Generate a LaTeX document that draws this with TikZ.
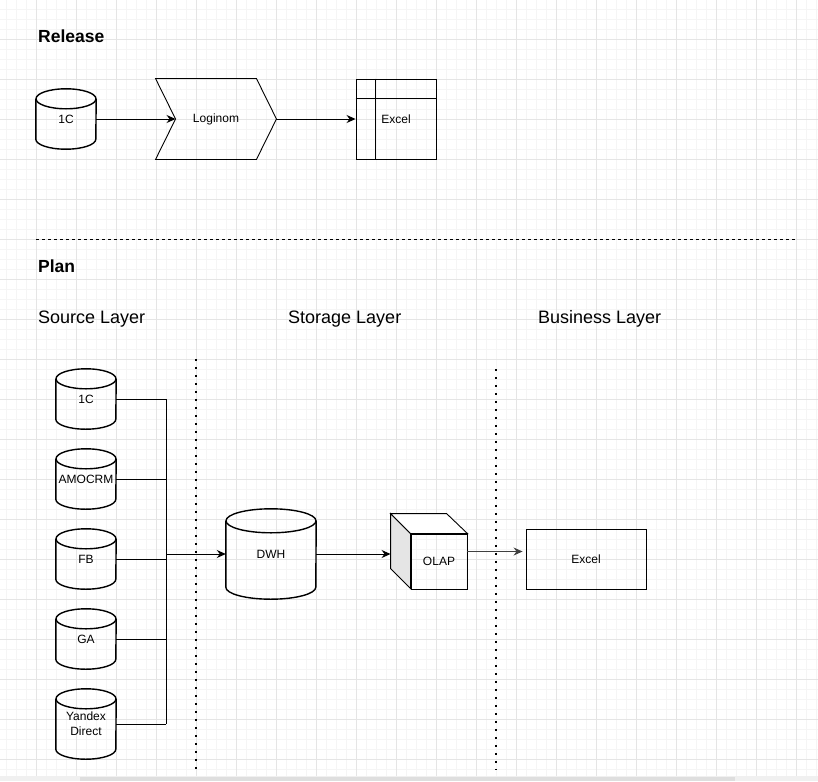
\documentclass[tikz,border=0pt]{standalone}
\usepackage{fontspec}
\setmainfont{Liberation Sans}
\usetikzlibrary{arrows.meta,calc,positioning}
\tikzstyle{db} = [inner sep=0pt, minimum width=60pt, minimum height=60pt, align=center, font=\fontsize{12}{15}\selectfont]
\tikzstyle{dbline} = [line width=1.4pt]
\tikzstyle{box} = [inner sep=0pt, line width=0.9pt, font=\fontsize{12}{15}\selectfont]
\tikzstyle{link} = [line width=0.9pt]
\tikzstyle{arrow} = [line width=0.9pt, -{Stealth[length=9pt,width=8pt,inset=3pt]}]
\tikzstyle{heading} = [anchor=west, inner sep=0pt, font=\fontsize{17.5}{20}\selectfont\bfseries]
\tikzstyle{layer} = [anchor=west, inner sep=0pt, font=\fontsize{18}{21}\selectfont]
\tikzstyle{sepline} = [line width=2pt, dash pattern=on 2pt off 6pt]
\colorlet{minorgrid}{black!4}
\colorlet{majorgrid}{black!10}
\newcommand{\drawDb}[3]{
  % #1 node, #2 x radius, #3 y radius
  \draw[dbline] ([yshift=-#3]#1.north west) -- ([yshift=#3]#1.south west)
    arc[start angle=180, end angle=360, x radius=#2pt, y radius=#3pt]
    -- ([yshift=-#3]#1.north east);
  \draw[dbline] ([yshift=-#3]#1.north) ellipse [x radius=#2pt, y radius=#3pt];
}
\begin{document}
\begin{tikzpicture}[x=1pt,y=-1pt]
  \useasboundingbox (0,0) rectangle (818,781);
  \fill[white] (0,0) rectangle (818,781);
  % grid
  \foreach \gx in {6,16,...,816} \draw[minorgrid] (\gx,0) -- (\gx,776);
  \foreach \gy in {9,19,...,769} \draw[minorgrid] (0,\gy) -- (818,\gy);
  \foreach \gx in {36,76,...,796} \draw[majorgrid] (\gx,0) -- (\gx,776);
  \foreach \gy in {39,79,...,759} \draw[majorgrid] (0,\gy) -- (818,\gy);
  \fill[black!6] (0,776) rectangle (818,781);
  \fill[black!13] (80,777) rectangle (735,781);

  % release
  \node[heading] (release) at (38,36) {Release};
  \node[db] (c1) at (66,119) {1C};
  \drawDb{c1}{30}{10}
  \node[box, minimum width=120pt, minimum height=80pt] (loginom) at (216,119) {Loginom};
  \draw[box] (loginom.north west) -- ([xshift=-20]loginom.north east) -- (loginom.east)
    -- ([xshift=-20]loginom.south east) -- (loginom.south west)
    -- ([xshift=20]loginom.west) -- cycle;
  \node[box, draw, minimum width=80pt, minimum height=80pt] (excel1) at (396,119) {Excel};
  \draw[box] ([xshift=20]excel1.north west) -- ([xshift=20]excel1.south west);
  \draw[box] ([yshift=-20]excel1.north west) -- ([yshift=-20]excel1.north east);
  \draw[arrow] (c1.east) -- ([xshift=20]loginom.west);
  \draw[arrow] (loginom.east) -- (excel1.west);

  \draw[line width=1pt, dash pattern=on 3pt off 3pt] (36,239) -- (796,239);

  % plan
  \node[heading] (plan) at (38,266) {Plan};
  \node[layer] (source) at (38,319) {Source Layer};
  \node[layer] (storage) at (288,319) {Storage Layer};
  \node[layer] (business) at (538,319) {Business Layer};
  \draw[sepline] (196,359) -- (196,770);
  \draw[sepline] (496,369) -- (496,770);

  \node[db] (src1) at (86,399) {1C};
  \node[db] (src2) at (86,479) {AMOCRM};
  \node[db] (src3) at (86,559) {FB};
  \node[db] (src4) at (86,639) {GA};
  \node[db, minimum height=70pt] (src5) at (86,724) {Yandex\\Direct};
  \foreach \s in {src1,src2,src3,src4,src5} \drawDb{\s}{30}{10}
  \coordinate (bus) at (166,399);
  \foreach \s in {src1,src2,src3,src4,src5} \draw[link] (\s.east) -- (\s.east -| bus);
  \draw[link] (src1.east -| bus) -- (src5.east -| bus);

  \node[db, minimum width=90pt, minimum height=90pt] (dwh) at (271,554) {DWH};
  \drawDb{dwh}{45}{12}
  \draw[arrow] (bus |- dwh.west) -- (dwh.west);

  \node[box, draw, minimum width=56pt, minimum height=55pt] (olap) at (439,561.5) {OLAP};
  \coordinate (olap back) at ([xshift=-20]olap.west);
  \draw[box, fill=black!10] (olap.north west) -- ++(-20,-20) -- ++(0,55) -- ++(20,20) -- cycle;
  \draw[box, fill=white] (olap.north west) -- ++(-20,-20) -- ++(56,0) -- (olap.north east) -- cycle;
  \draw[arrow] (dwh.east) -- (dwh.east -| olap back);

  \node[box, draw, minimum width=120pt, minimum height=60pt] (excel2) at (586,559) {Excel};
  \draw[arrow, black!75, line width=1.3pt, shorten >=3pt] ([yshift=10]olap.east) -- ([yshift=10]olap.east -| excel2.west);
\end{tikzpicture}
\end{document}
